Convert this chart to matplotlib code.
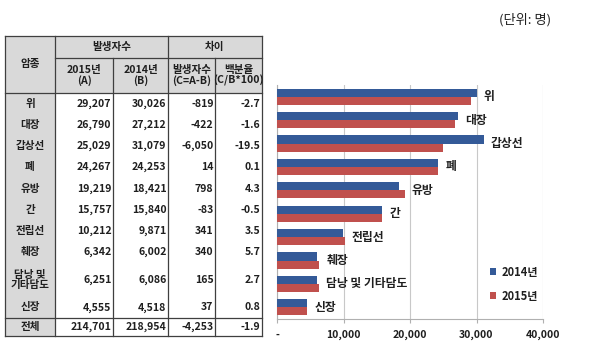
import matplotlib
matplotlib.use("Agg")
import matplotlib.pyplot as plt
from matplotlib.patches import Rectangle
import numpy as np

plt.rcParams['font.family'] = ['Noto Sans CJK KR', 'DejaVu Sans']

# ---------------- data ----------------
cancers_table = ["위", "대장", "갑상선", "폐", "유방", "간", "전립선", "췌장", "담낭 및\n기타담도", "신장"]
cancers_chart = ["위", "대장", "갑상선", "폐", "유방", "간", "전립선", "췌장", "담낭 및 기타담도", "신장"]
cases_2015 = [29207, 26790, 25029, 24267, 19219, 15757, 10212, 6342, 6251, 4555]
cases_2014 = [30026, 27212, 31079, 24253, 18421, 15840, 9871, 6002, 6086, 4518]
diff_cases = [-819, -422, -6050, 14, 798, -83, 341, 340, 165, 37]
diff_pct = [-2.7, -1.6, -19.5, 0.1, 4.3, -0.5, 3.5, 5.7, 2.7, 0.8]
total_label = "전체"
total_2015 = 214701
total_2014 = 218954
total_diff = -4253
total_pct = -1.9
series_labels = ["2014년", "2015년"]
x_ticks = [0, 10000, 20000, 30000, 40000]
x_tick_labels = ["-", "10,000", "20,000", "30,000", "40,000"]
unit_text = "(단위: 명)"

BLUE = "#345A98"
RED = "#C0504D"
TXT = "#1f1f1f"

fig = plt.figure(figsize=(6.0, 3.56), dpi=100)
fig.patch.set_facecolor("white")

# ---------------- table (pixel-coordinate overlay) ----------------
axt = fig.add_axes([0, 0, 1, 1])
axt.set_xlim(0, 600)
axt.set_ylim(356, 0)
axt.axis("off")

cols = [5, 55, 113, 168, 215, 262]
y_top, y_h1, y_h2 = 36, 58, 93
y_tot, y_bot = 318, 336
row_units = [1] * 8 + [1.6] + [1]
unit = (y_tot - y_h2) / sum(row_units)
row_edges = [y_h2]
for u in row_units:
    row_edges.append(row_edges[-1] + u * unit)

GRAY = "#d9d9d9"
LC = "#3f3f3f"
axt.add_patch(Rectangle((cols[0], y_top), cols[-1] - cols[0], y_h2 - y_top, facecolor=GRAY, edgecolor="none"))
axt.add_patch(Rectangle((cols[0], y_h2), cols[1] - cols[0], y_bot - y_h2, facecolor=GRAY, edgecolor="none"))
lw = 0.9
for yy in [y_top, y_h2, y_tot, y_bot]:
    axt.plot([cols[0], cols[-1]], [yy, yy], color=LC, lw=lw)
axt.plot([cols[1], cols[-1]], [y_h1, y_h1], color=LC, lw=lw)
for x in [cols[0], cols[1], cols[3], cols[5]]:
    axt.plot([x, x], [y_top, y_bot], color=LC, lw=lw)
for x in [cols[2], cols[4]]:
    axt.plot([x, x], [y_h1, y_bot], color=LC, lw=lw)

fs = 7.6
hkw = dict(ha="center", va="center", fontsize=fs, fontweight="bold", color=TXT, linespacing=1.0)
axt.text((cols[0] + cols[1]) / 2, (y_top + y_h2) / 2, "암종", **hkw)
axt.text((cols[1] + cols[3]) / 2, (y_top + y_h1) / 2, "발생자수", **hkw)
axt.text((cols[3] + cols[5]) / 2, (y_top + y_h1) / 2, "차이", **hkw)
sub_heads = ["2015년\n(A)", "2014년\n(B)", "발생자수\n(C=A-B)", "백분율\n(C/B*100)"]
for i, s in enumerate(sub_heads):
    axt.text((cols[i + 1] + cols[i + 2]) / 2, (y_h1 + y_h2) / 2, s, **hkw)

nkw = dict(ha="right", va="center", fontsize=fs, fontweight="bold", color=TXT)
for i in range(len(cancers_table)):
    yc = (row_edges[i] + row_edges[i + 1]) / 2
    axt.text((cols[0] + cols[1]) / 2, yc, cancers_table[i], **hkw)
    vals = [f"{cases_2015[i]:,}", f"{cases_2014[i]:,}", f"{diff_cases[i]:,}", f"{diff_pct[i]:.1f}"]
    for j, v in enumerate(vals):
        axt.text(cols[j + 2] - 1.5, yc, v, **nkw)
yc = (y_tot + y_bot) / 2
axt.text((cols[0] + cols[1]) / 2, yc, total_label, **hkw)
for j, v in enumerate([f"{total_2015:,}", f"{total_2014:,}", f"{total_diff:,}", f"{total_pct:.1f}"]):
    axt.text(cols[j + 2] - 1.5, yc, v, **nkw)

axt.text(525, 20, unit_text, ha="center", va="center", fontsize=9.5, color=TXT)

# ---------------- bar chart ----------------
ax = fig.add_axes([277 / 600, 1 - 319 / 356, (543 - 277) / 600, (319 - 85) / 356])
y = np.arange(len(cancers_chart))
bh = 0.35
ax.barh(y - bh / 2, cases_2014, height=bh, color=BLUE, label=series_labels[0], zorder=3)
ax.barh(y + bh / 2, cases_2015, height=bh, color=RED, label=series_labels[1], zorder=3)
ax.set_ylim(len(cancers_chart) - 0.5, -0.5)
ax.set_xlim(0, 40000)
ax.set_xticks(x_ticks)
ax.set_xticklabels(x_tick_labels, fontsize=7.5, fontweight="bold", color=TXT)
ax.set_yticks([])
ax.grid(axis="x", color="#c8c8c8", lw=0.8, zorder=0)
for s in ["top", "right"]:
    ax.spines[s].set_visible(False)
ax.spines["left"].set_color("#b0b0b0")
ax.spines["bottom"].set_color("#b0b0b0")
ax.tick_params(axis="x", length=3, color="#b0b0b0", pad=5)

for i, name in enumerate(cancers_chart):
    m = max(cases_2014[i], cases_2015[i])
    ax.annotate(name, xy=(m, i), xytext=(7, 0), textcoords="offset pixels",
                ha="left", va="center", fontsize=8.5, fontweight="bold", color=TXT)

leg = ax.legend(loc="lower right", bbox_to_anchor=(1.0, 0.05), frameon=False,
                fontsize=8, handlelength=0.6, handleheight=0.6, labelspacing=1.0,
                handletextpad=0.5, borderaxespad=0)
for t in leg.get_texts():
    t.set_fontweight("bold")
    t.set_color(TXT)

fig.savefig("out.png", dpi=100, facecolor="white")
